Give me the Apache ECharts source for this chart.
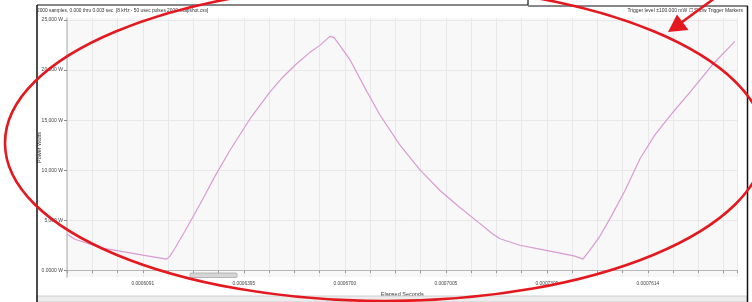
<!DOCTYPE html>
<html>
<head>
<meta charset="utf-8">
<script src="https://cdn.jsdelivr.net/npm/echarts@6/dist/echarts.min.js"></script>
<style>
  html, body { margin: 0; padding: 0; background: #fff; }
  #chart { width: 752px; height: 302px; }
</style>
</head>
<body>
<div id="chart"></div>
<script>
// elapsed time in microseconds, power in watts
const elapsedMicros = [
  586.4, 588.7, 597.1, 609.2, 616.4, 617.4, 618.9, 621.9, 626.4, 630.9,
  635.4, 641.5, 647.5, 651.4, 655.4, 659.6, 662.6, 665.6, 666.8, 668.6,
  671.6, 676.2, 680.7, 686.7, 692.7, 698.8, 704.8, 710.8, 714.5, 716.9,
  722.9, 728.9, 735.0, 739.5, 741.9, 744.0, 747.0, 750.1, 754.6, 759.1,
  763.6, 769.1, 774.2, 780.8, 787.7
];
const powerWatts = [
  3621, 3125, 2232, 1538, 1141, 1438, 2232, 3918, 6597, 9374,
  11954, 15128, 17806, 19294, 20584, 21774, 22469, 23362, 23262, 22469,
  21080, 18203, 15525, 12549, 10069, 7986, 6300, 4713, 3700, 3180,
  2530, 2133, 1736, 1438, 1141, 2034, 3422, 5208, 7986, 11160,
  13541, 15822, 17806, 20485, 22866
];
const xTickLabels = ['0.0006091', '0.0006395', '0.0006700', '0.0007005', '0.0007309', '0.0007614'];
const yTickValues = [0, 5000, 10000, 15000, 20000, 25000];
const yTickLabels = ['0.0000 W', '5,000 W', '10,000 W', '15,000 W', '20,000 W', '25,000 W'];

const xMin = 586.355;
const xStep = 7.615; // one grid column, 4 per labelled tick
const xMax = 788.5;

const chart = echarts.init(document.getElementById('chart'));
const font = 'Liberation Sans';

chart.setOption({
  animation: false,
  textStyle: { fontFamily: font },
  grid: {
    left: 67, right: 14.5, top: 18, bottom: 23,
    show: true, backgroundColor: '#f8f8f8', borderWidth: 0
  },
  xAxis: {
    type: 'value',
    min: xMin, max: xMax, interval: xStep,
    name: 'Elapsed Seconds',
    nameLocation: 'middle', nameGap: 11,
    nameTextStyle: { fontSize: 5.5, color: '#333' },
    axisLine: { lineStyle: { color: '#b8b8b8', width: 1 } },
    axisTick: { show: true, length: 2.5, lineStyle: { color: '#999' } },
    axisLabel: {
      interval: 0, fontSize: 4.8, color: '#444', margin: 4, hideOverlap: false,
      formatter: function (v) {
        const k = Math.round((v - xMin) / xStep) - 3;
        if (k >= 0 && k % 4 === 0 && k / 4 < xTickLabels.length) return xTickLabels[k / 4];
        return '';
      }
    },
    splitLine: { show: true, lineStyle: { color: '#e8e8e8', width: 1 } }
  },
  yAxis: {
    type: 'value',
    min: -650, max: 25200,
    name: 'Power Watts',
    nameLocation: 'middle', nameGap: 25, nameRotate: 90,
    nameMoveOverlap: false,
    nameTextStyle: { fontSize: 5.5, color: '#333' },
    axisLine: { show: true, lineStyle: { color: '#c4c4c4', width: 1.5 } },
    axisTick: { show: true, length: 3, customValues: yTickValues, lineStyle: { color: '#888' } },
    axisLabel: {
      customValues: yTickValues, fontSize: 5, color: '#444', margin: 4,
      formatter: function (v) {
        const i = yTickValues.indexOf(v);
        return i >= 0 ? yTickLabels[i] : '';
      }
    },
    splitLine: { show: true, lineStyle: { color: '#e8e8e8', width: 1 } }
  },
  series: [{
    type: 'line',
    data: elapsedMicros.map((x, i) => [x, powerWatts[i]]),
    showSymbol: false,
    lineStyle: { color: '#da9ad3', width: 1.2 },
    clip: true
  }],
  graphic: [
    // window frame and status strip
    { type: 'rect', shape: { x: 37, y: 296, width: 710, height: 6 }, style: { fill: '#ececec', stroke: '#cfcfcf', lineWidth: 1 }, z: 5 },
    { type: 'line', shape: { x1: 37, y1: 5, x2: 37, y2: 302 }, style: { stroke: '#111', lineWidth: 1.5 }, z: 6 },
    { type: 'line', shape: { x1: 37, y1: 5, x2: 528, y2: 5 }, style: { stroke: '#111', lineWidth: 1.2 }, z: 6 },
    { type: 'line', shape: { x1: 528, y1: 0, x2: 528, y2: 5 }, style: { stroke: '#111', lineWidth: 1.2 }, z: 6 },
    { type: 'line', shape: { x1: 528, y1: 6, x2: 748, y2: 6 }, style: { stroke: '#111', lineWidth: 1.2 }, z: 6 },
    { type: 'line', shape: { x1: 747.5, y1: 6, x2: 747.5, y2: 302 }, style: { stroke: '#111', lineWidth: 1.5 }, z: 6 },
    // header texts
    { type: 'text', x: 37, y: 8.5, style: { text: '2000 samples, 0.000 thru 0.003 sec. [8 kHz - 50 usec pulses 2000 snapshot.csv]', fontSize: 4.8, fill: '#333', fontFamily: font }, z: 6 },
    { type: 'text', x: 743, y: 8.5, style: { text: 'Trigger level \u00b1100.000 mW \u2610 Show Trigger Markers', fontSize: 5, fill: '#333', align: 'right', fontFamily: font }, z: 6 },
    // scrollbar thumb
    { type: 'rect', shape: { x: 190, y: 273, width: 47, height: 4.5, r: 1 }, style: { fill: '#d6d6d6', stroke: '#a8a8a8', lineWidth: 0.8 }, z: 6 },
    // red annotation
    { type: 'ellipse', shape: { cx: 385, cy: 143, rx: 380, ry: 158 }, style: { fill: null, stroke: '#e3191f', lineWidth: 2.6 }, z: 10 },
    { type: 'line', shape: { x1: 730, y1: -13, x2: 680, y2: 23.5 }, style: { stroke: '#e3191f', lineWidth: 2.6 }, z: 10 },
    { type: 'polygon', shape: { points: [[668, 32], [677, 14.5], [688.5, 30]] }, style: { fill: '#e3191f' }, z: 10 }
  ]
});
</script>
</body>
</html>
